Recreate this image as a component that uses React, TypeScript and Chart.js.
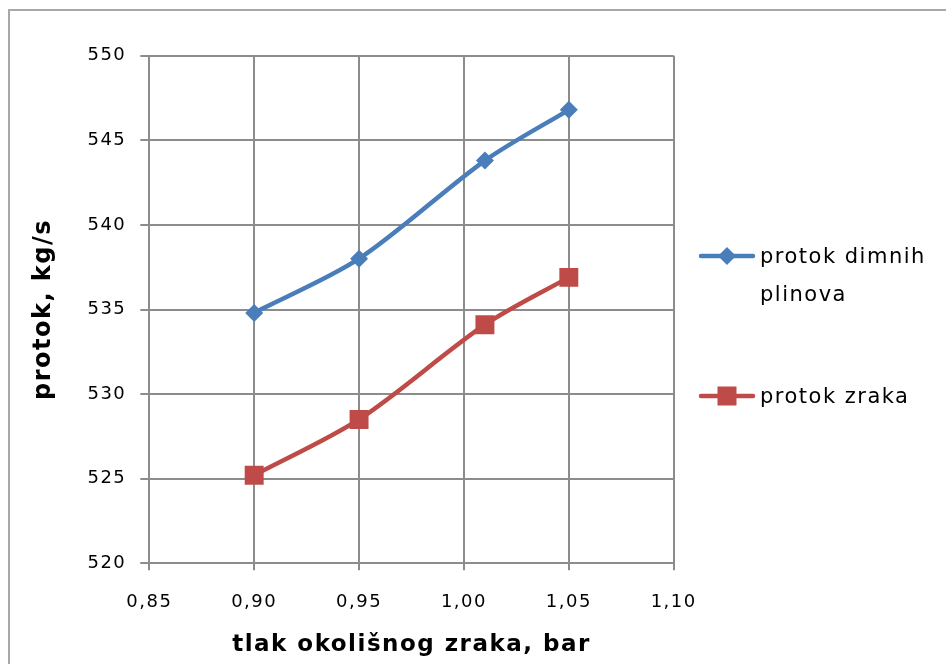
import React, { useEffect, useRef } from "react";
import { Chart, registerables } from "chart.js";

Chart.register(...registerables);

const xValues = [0.9, 0.95, 1.01, 1.05];
const flueGas = [534.8, 538.0, 543.8, 546.8];
const air = [525.2, 528.5, 534.1, 536.9];
const seriesLabels = ["protok dimnih plinova", "protok zraka"];
const xTickLabels = ["0,85", "0,90", "0,95", "1,00", "1,05", "1,10"];
const yTickLabels = ["520", "525", "530", "535", "540", "545", "550"];
const xTitle = "tlak okolišnog zraka, bar";
const yTitle = "protok, kg/s";

const BLUE = "#4A7EBB";
const RED = "#BE4B48";
const GRID = "#8c8c8c";
const FONT = "'DejaVu Sans', sans-serif";
const SPACING = "1.5px";

const spacingPlugin = {
  id: "spacing",
  beforeLayout(chart: any) {
    chart.ctx.letterSpacing = SPACING;
  },
  beforeDraw(chart: any) {
    chart.ctx.letterSpacing = SPACING;
  },
};

const legendPlugin = {
  id: "customLegend",
  afterDraw(chart: any) {
    const ctx = chart.ctx;
    const entries = [
      { y: 256, textY: 258 },
      { y: 396, textY: 398 },
    ];
    ctx.save();
    ctx.letterSpacing = "1.5px";
    chart.data.datasets.forEach((ds: any, i: number) => {
      const pos = entries[i];
      const x0 = 701;
      const x1 = 753;
      ctx.strokeStyle = ds.borderColor;
      ctx.lineWidth = 4.5;
      ctx.lineCap = "round";
      ctx.beginPath();
      ctx.moveTo(x0, pos.y);
      ctx.lineTo(x1, pos.y);
      ctx.stroke();
      ctx.fillStyle = ds.backgroundColor;
      ctx.beginPath();
      const cx = (x0 + x1) / 2;
      if (ds.pointStyle === "rectRot") {
        const r = 9;
        ctx.moveTo(cx - r, pos.y);
        ctx.lineTo(cx, pos.y - r);
        ctx.lineTo(cx + r, pos.y);
        ctx.lineTo(cx, pos.y + r);
        ctx.closePath();
      } else {
        const h = 9.5;
        ctx.rect(cx - h, pos.y - h, 2 * h, 2 * h);
      }
      ctx.fill();
      ctx.fillStyle = "#000";
      ctx.font = `21px ${FONT}`;
      ctx.textAlign = "left";
      ctx.textBaseline = "middle";
      const maxW = 182;
      const words = String(ds.label).split(" ");
      const lines: string[] = [];
      let cur = "";
      words.forEach((w) => {
        const test = cur ? cur + " " + w : w;
        if (ctx.measureText(test).width > maxW && cur) {
          lines.push(cur);
          cur = w;
        } else {
          cur = test;
        }
      });
      if (cur) lines.push(cur);
      lines.forEach((ln, k) => {
        ctx.fillText(ln, 760, pos.textY + k * 38);
      });
    });
    ctx.restore();
  },
};

export default function App() {
  const ref = useRef<HTMLCanvasElement | null>(null);

  useEffect(() => {
    if (!ref.current) return;
    const chart = new Chart(ref.current, {
      type: "scatter",
      data: {
        datasets: [
          {
            label: seriesLabels[0],
            data: xValues.map((x, i) => ({ x, y: flueGas[i] })),
            showLine: true,
            borderColor: BLUE,
            backgroundColor: BLUE,
            borderWidth: 4.5,
            tension: 0.3,
            pointStyle: "rectRot",
            pointRadius: 9,
            pointBorderWidth: 0,
            pointHoverRadius: 9,
          },
          {
            label: seriesLabels[1],
            data: xValues.map((x, i) => ({ x, y: air[i] })),
            showLine: true,
            borderColor: RED,
            backgroundColor: RED,
            borderWidth: 4.5,
            tension: 0.3,
            pointStyle: "rect",
            pointRadius: 13.4,
            pointBorderWidth: 0,
            pointHoverRadius: 13.4,
          },
        ],
      },
      options: {
        responsive: false,
        animation: false,
        devicePixelRatio: 1,
        layout: { padding: { left: 0, top: 55.7, right: 272.3, bottom: 0 } },
        plugins: {
          legend: { display: false },
          tooltip: { enabled: false },
        },
        scales: {
          x: {
            type: "linear",
            min: 0.85,
            max: 1.1,
            ticks: {
              stepSize: 0.05,
              color: "#000",
              font: { family: FONT, size: 18 },
              padding: 21,
              maxRotation: 0,
              autoSkip: false,
              callback: (_v: any, i: number) => xTickLabels[i],
            },
            grid: {
              color: GRID,
              lineWidth: 2,
              tickLength: 7,
              tickColor: GRID,
            },
            border: { color: GRID, width: 2 },
            title: {
              display: true,
              text: xTitle,
              color: "#000",
              font: { family: FONT, size: 23, weight: "bold" },
              padding: { top: 0, bottom: 5 },
            },
            afterFit: (s: any) => {
              s.height = 100.7;
            },
          },
          y: {
            type: "linear",
            min: 520,
            max: 550,
            ticks: {
              stepSize: 5,
              color: "#000",
              font: { family: FONT, size: 18 },
              padding: 14,
              autoSkip: false,
              callback: (_v: any, i: number) => yTickLabels[i],
            },
            grid: {
              color: GRID,
              lineWidth: 2,
              tickLength: 9,
              tickColor: GRID,
            },
            border: { color: GRID, width: 2 },
            title: {
              display: true,
              text: yTitle,
              color: "#000",
              font: { family: FONT, size: 24, weight: "bold" },
              padding: { top: 29, bottom: 0 },
            },
            afterFit: (s: any) => {
              s.width = 149.3;
            },
          },
        },
      } as any,
      plugins: [spacingPlugin, legendPlugin],
    });
    return () => chart.destroy();
  }, []);

  return (
    <div style={{ position: "fixed", left: 0, top: 0, width: 946, height: 664, background: "#fff", overflow: "hidden" }}>
      <div
        style={{
          position: "absolute",
          left: 8,
          top: 9,
          width: 940,
          height: 660,
          borderLeft: "2px solid #a8a8a8",
          borderTop: "2px solid #a8a8a8",
        }}
      />
      <canvas ref={ref} width={946} height={664} style={{ position: "absolute", left: 0, top: 0, width: 946, height: 664 }} />
    </div>
  );
}
